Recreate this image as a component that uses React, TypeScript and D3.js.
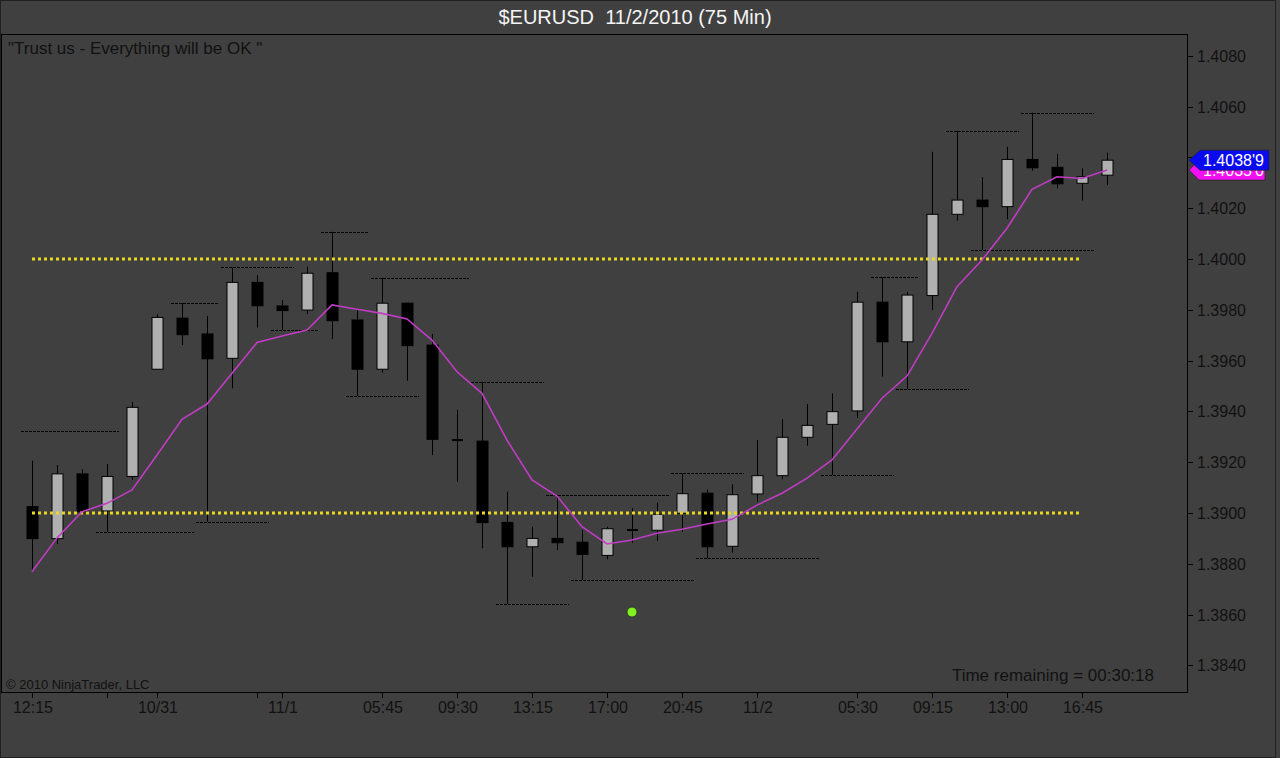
import React from "react";
import * as d3 from "d3";

const W = 1280;
const H = 758;

// OHLC data (75 min bars)
const opens = [1.39025,1.38899,1.39154,1.39008,1.39144,1.39566,1.39767,1.39705,1.39609,1.39908,1.39815,1.39799,1.39946,1.39760,1.39566,1.39826,1.39661,1.39287,1.39283,1.38963,1.38867,1.38900,1.38885,1.38833,1.38933,1.38932,1.38999,1.39078,1.38869,1.39075,1.39147,1.39298,1.39349,1.39402,1.39830,1.39674,1.39856,1.40176,1.40232,1.40206,1.40392,1.40361,1.40298,1.40330];
const highs = [1.39206,1.39189,1.39172,1.39193,1.39437,1.39782,1.39826,1.39776,1.39967,1.39937,1.39839,1.39970,1.40107,1.39799,1.39926,1.39826,1.39705,1.39406,1.39517,1.39084,1.38946,1.39071,1.38933,1.38946,1.39019,1.39041,1.39156,1.39093,1.39113,1.39287,1.39370,1.39429,1.39471,1.39871,1.39928,1.39871,1.40422,1.40505,1.40322,1.40442,1.40576,1.40413,1.40357,1.40418];
const lows = [1.38769,1.38878,1.39005,1.38926,1.39130,1.39566,1.39661,1.38966,1.39491,1.39730,1.39720,1.39783,1.39684,1.39461,1.39552,1.39520,1.39228,1.39123,1.38861,1.38642,1.38749,1.38854,1.38736,1.38818,1.38883,1.38890,1.38926,1.38822,1.38844,1.39044,1.39133,1.39265,1.39150,1.39374,1.39537,1.39487,1.39799,1.40151,1.40035,1.40157,1.40348,1.40278,1.40230,1.40291];
const closes = [1.38899,1.39154,1.39005,1.39144,1.39416,1.39770,1.39702,1.39607,1.39908,1.39816,1.39797,1.39944,1.39757,1.39566,1.39826,1.39659,1.39290,1.39287,1.38962,1.38867,1.38900,1.38883,1.38837,1.38938,1.38933,1.38995,1.39076,1.38867,1.39072,1.39147,1.39298,1.39345,1.39399,1.39830,1.39674,1.39858,1.40176,1.40232,1.40206,1.40392,1.40359,1.40296,1.40324,1.40389];
// moving average (magenta)
const maValues = [1.38769,1.38902,1.39005,1.39038,1.39091,1.39228,1.39369,1.39429,1.39550,1.39671,1.39697,1.39720,1.39819,1.39802,1.39786,1.39764,1.39681,1.39556,1.39471,1.39287,1.39130,1.39067,1.38946,1.38878,1.38894,1.38920,1.38936,1.38957,1.38975,1.39031,1.39078,1.39137,1.39209,1.39331,1.39452,1.39539,1.39707,1.39891,1.39996,1.40121,1.40274,1.40324,1.40317,1.40350];

// swing lines: start bar, end bar, price
const swingStart = [0,6,8,10,3,7,12,14,13,18,21,19,22,26,27,32,34,35,37,38,40];
const swingEnd = [3,7,10,11,6,9,13,17,15,20,25,21,26,28,31,34,35,37,39,42,42];
const swingPrice = [1.39323,1.39826,1.39967,1.39720,1.38926,1.38966,1.40107,1.39926,1.39461,1.39517,1.39071,1.38642,1.38736,1.39156,1.38822,1.39150,1.39928,1.39487,1.40505,1.40035,1.40576];

// horizontal levels (yellow dotted)
const levels = [1.4000, 1.3900];
const levelStartBar = 0;
const levelEndBar = 42;

// marker dot
const dotBar = 24;
const dotPrice = 1.3861;

// axes
const yTicks = [1.384,1.386,1.388,1.390,1.392,1.394,1.396,1.398,1.400,1.402,1.404,1.406,1.408];
const xTickBars = [0,3,5,9,10,14,17,20,23,26,29,33,36,39,42];
const xTickLabels = ["12:15","","10/31","","11/1","05:45","09:30","13:15","17:00","20:45","11/2","05:30","09:15","13:00","16:45"];

const title = "$EURUSD  11/2/2010 (75 Min)";
const note = "\"Trust us - Everything will be OK \"";
const copyright = "© 2010 NinjaTrader, LLC";
const timeRemaining = "Time remaining = 00:30:18";
const lastPriceLabel = "1.4038'9";
const maPriceLabel = "1.4035'0";

const FONT = "'Liberation Sans', Arial, sans-serif";

export default function App() {
  const plotLeft = 1, plotRight = 1187, plotTop = 34, plotBottom = 692;
  const x = d3.scaleLinear().domain([0, 43]).range([32, 1107]);
  const y = d3.scaleLinear().domain([1.384, 1.408]).range([665.4, 55.8]);
  const bodyW = 11;

  const maLine = d3.line<number>().x((_, i) => x(i)).y((d) => y(d))(maValues) || "";

  const markerPath = (cy: number, tipX: number, left: number, right: number, h: number) =>
    `M${tipX},${cy} L${left},${cy - h / 2} L${right},${cy - h / 2} L${right},${cy + h / 2} L${left},${cy + h / 2} Z`;

  const lastY = y(closes[closes.length - 1]);
  const maY = y(maValues[maValues.length - 1]);

  return (
    <svg width={W} height={H} style={{ position: "absolute", left: 0, top: 0, display: "block" }} fontFamily={FONT}>
      <defs>
        <clipPath id="maClip">
          <rect x={1190} y={lastY + 10} width={80} height={20} />
        </clipPath>
      </defs>
      <rect x={0} y={0} width={W} height={H} fill="#404040" />
      <rect x={0.5} y={0.5} width={1275} height={757} fill="none" stroke="#202020" strokeWidth={1} />
      <text x={635} y={24} textAnchor="middle" fill="#f4f4f4" fontSize={20} style={{ whiteSpace: "pre" }}>{title}</text>

      {/* plot frame */}
      <rect x={plotLeft + 0.5} y={plotTop + 0.5} width={plotRight - plotLeft} height={plotBottom - plotTop} fill="none" stroke="#000" strokeWidth={1} />

      <text x={8} y={54} fill="#111" fontSize={17}>{note}</text>
      <text x={6} y={689} fill="#111" fontSize={13}>{copyright}</text>
      <text x={1154} y={681} textAnchor="end" fill="#111" fontSize={17}>{timeRemaining}</text>

      {/* y axis */}
      {yTicks.map((t) => (
        <g key={t}>
          <line x1={plotRight} x2={plotRight + 6} y1={Math.round(y(t)) + 0.5} y2={Math.round(y(t)) + 0.5} stroke="#000" />
          <text x={1197} y={y(t) + 6} fill="#111" fontSize={16}>{t.toFixed(4)}</text>
        </g>
      ))}

      {/* x axis */}
      {xTickBars.map((b, i) => (
        <g key={b}>
          <line x1={Math.round(x(b)) + 0.5} x2={Math.round(x(b)) + 0.5} y1={plotBottom} y2={plotBottom + 6} stroke="#000" />
          {xTickLabels[i] && (
            <text x={x(b) + 1} y={713} textAnchor="middle" fill="#111" fontSize={16}>{xTickLabels[i]}</text>
          )}
        </g>
      ))}

      {/* swing lines */}
      {swingPrice.map((p, i) => (
        <line key={"s" + i} x1={x(swingStart[i]) - 11} x2={x(swingEnd[i]) + 12} y1={Math.round(y(p)) + 0.5} y2={Math.round(y(p)) + 0.5}
          stroke="#000" strokeWidth={1} strokeDasharray="3,1" />
      ))}

      {/* candles */}
      {opens.map((o, i) => {
        const c = closes[i];
        const cx = Math.round(x(i)) + 0.5;
        const yTop = y(Math.max(o, c));
        const yBot = y(Math.min(o, c));
        const bull = c > o;
        const doji = Math.abs(yBot - yTop) < 2;
        return (
          <g key={"c" + i}>
            <line x1={cx} x2={cx} y1={y(highs[i])} y2={y(lows[i])} stroke="#000" strokeWidth={1} />
            {doji ? (
              <rect x={cx - bodyW / 2} y={yTop - 1} width={bodyW} height={2} fill="#000" />
            ) : (
              <rect x={cx - bodyW / 2} y={yTop} width={bodyW} height={yBot - yTop}
                fill={bull ? "#b0b0b0" : "#000"} stroke="#000" strokeWidth={1} />
            )}
          </g>
        );
      })}

      {/* levels */}
      {levels.map((l) => (
        <line key={"l" + l} x1={x(levelStartBar)} x2={x(levelEndBar) - 2} y1={y(l)} y2={y(l)}
          stroke="#e8d820" strokeWidth={3} strokeDasharray="3,3" />
      ))}

      {/* moving average */}
      <path d={maLine} fill="none" stroke="#c03cc4" strokeWidth={1.6} />

      {/* dot */}
      <circle cx={x(dotBar)} cy={y(dotPrice)} r={5} fill="#80f020" stroke="#2a2a2a" strokeWidth={0.8} />

      {/* price markers */}
      <path d={markerPath(maY, 1189, 1199, 1265, 20)} fill="#f010f0" stroke="#202020" strokeWidth={0.6} />
      <text x={1203} y={maY + 6} fill="#fff" fontSize={16} clipPath="url(#maClip)">{maPriceLabel}</text>
      <path d={markerPath(lastY, 1189, 1200, 1269, 20)} fill="#0a0af0" stroke="#202020" strokeWidth={0.6} />
      <text x={1203} y={lastY + 6} fill="#fff" fontSize={16}>{lastPriceLabel}</text>
    </svg>
  );
}
